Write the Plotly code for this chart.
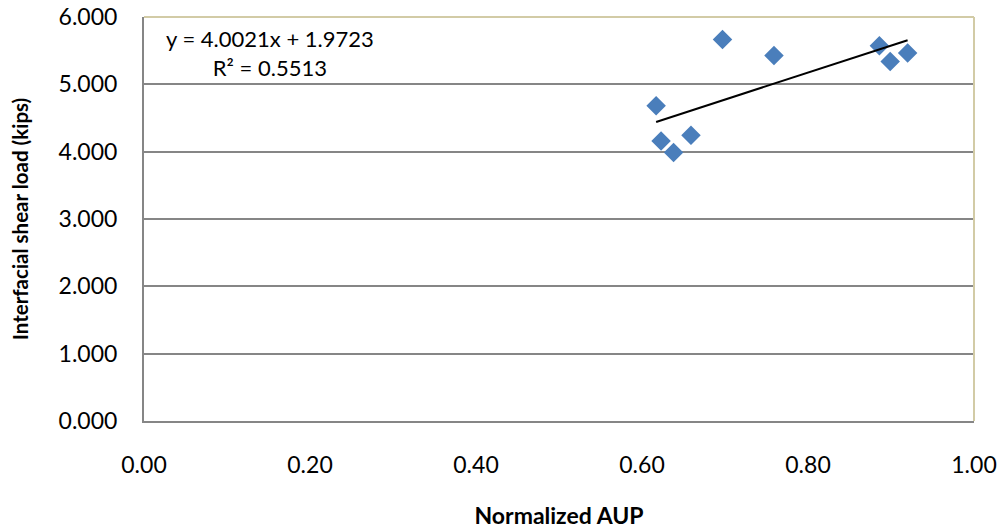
import numpy as np
import plotly.graph_objects as go

# Data
normalized_aup = [0.617, 0.623, 0.638, 0.659, 0.697, 0.759, 0.886, 0.899, 0.920]
shear_load_kips = [4.681, 4.160, 3.986, 4.245, 5.667, 5.429, 5.573, 5.340, 5.465]

# Trendline coefficients shown on the chart
slope = 4.0021
intercept = 1.9723
r_squared = 0.5513

x_ticks = [0.0, 0.2, 0.4, 0.6, 0.8, 1.0]
y_ticks = [0, 1, 2, 3, 4, 5, 6]

FONT = "Lato"
GRID = "#868686"
TAN = "#D2CBA6"

trend_x = np.array([min(normalized_aup), max(normalized_aup)])
trend_y = slope * trend_x + intercept

fig = go.Figure()
fig.add_trace(go.Scatter(
    x=normalized_aup, y=shear_load_kips, mode="markers",
    marker=dict(symbol="diamond", size=15, color="#4A7EBB", line=dict(width=0)),
    showlegend=False, cliponaxis=False,
))
fig.add_trace(go.Scatter(
    x=trend_x, y=trend_y, mode="lines",
    line=dict(color="black", width=2), showlegend=False,
))

# page has an 8px body margin, so the figure is sized/offset to compensate
fig.update_layout(
    width=997, height=521,
    margin=dict(l=135.5, r=31, t=9, b=108, pad=0),
    paper_bgcolor="white", plot_bgcolor="white",
    font=dict(family=FONT, size=23, color="black"),
    xaxis=dict(
        range=[0, 1], tickvals=x_ticks, tickformat=".2f", automargin=False,
        showgrid=False, zeroline=False,
        showline=True, linecolor=GRID, linewidth=2,
        ticks="outside", ticklen=22, tickcolor="rgba(0,0,0,0)",
        ticklabeloverflow="allow",
        tickfont=dict(family=FONT, size=23),
        title=dict(text="<b>Normalized AUP</b>", font=dict(family=FONT, size=23), standoff=32),
    ),
    yaxis=dict(
        range=[0, 6], tickvals=y_ticks, tickformat=".3f", automargin=False,
        showgrid=True, gridcolor=GRID, gridwidth=1.5, zeroline=False,
        showline=True, linecolor=GRID, linewidth=2,
        ticks="outside", ticklen=20, tickcolor="rgba(0,0,0,0)",
        ticklabeloverflow="allow",
        tickfont=dict(family=FONT, size=23),
        title=dict(text="<b>Interfacial shear load (kips)</b>", font=dict(family=FONT, size=20.5), standoff=24),
    ),
    shapes=[
        dict(type="line", xref="paper", yref="paper", x0=0, x1=1, y0=1, y1=1,
             line=dict(color=TAN, width=2), layer="above"),
        dict(type="line", xref="paper", yref="paper", x0=1, x1=1, y0=0, y1=1,
             line=dict(color=TAN, width=2), layer="above"),
    ],
    annotations=[
        dict(text=f"y = {slope}x + {intercept}<br>R² = {r_squared}",
             xref="paper", yref="paper", x=0.152, y=0.985,
             xanchor="center", yanchor="top", showarrow=False, align="center",
             font=dict(family=FONT, size=22, color="black")),
    ],
)

fig.write_html("out.html")
